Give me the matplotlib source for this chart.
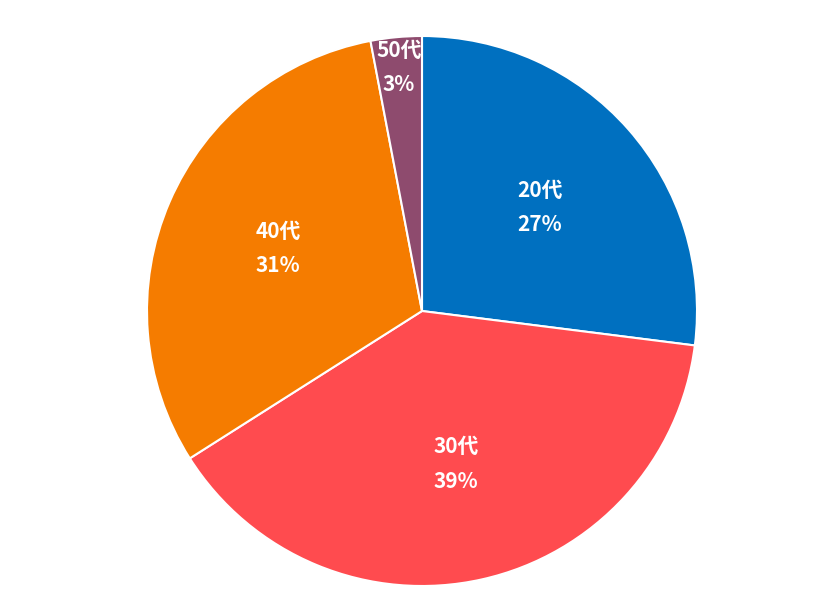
import numpy as np
import matplotlib.pyplot as plt

plt.rcParams['font.family'] = ['Noto Sans CJK JP', 'DejaVu Sans']

labels = ["20代", "30代", "40代", "50代"]
values = [27, 39, 31, 3]
colors = ["#0070C0", "#FF4B4F", "#F57C00", "#8E4B6E"]
label_dist = [0.57, 0.57, 0.57, 0.89]

fig = plt.figure(figsize=(8.4, 6.11), dpi=100)
ax = fig.add_axes([(422 - 275) / 840, 25 / 611, 550 / 840, 550 / 611])

ax.pie(values, colors=colors, startangle=90, counterclock=False, radius=1,
       wedgeprops=dict(edgecolor="white", linewidth=1.5))

total = sum(values)
start = 90.0
for lab, v, d in zip(labels, values, label_dist):
    sweep = v / total * 360
    mid = np.deg2rad(start - sweep / 2)
    x, y = d * np.cos(mid), d * np.sin(mid)
    ax.text(x, y + 0.062, lab, ha="center", va="center", color="white",
            fontsize=15, fontweight="bold")
    ax.text(x, y - 0.062, f"{v}%", ha="center", va="center", color="white",
            fontsize=15, fontweight="bold")
    start -= sweep

ax.set_xlim(-1, 1)
ax.set_ylim(-1, 1)
ax.set_aspect("equal")
ax.axis("off")

fig.savefig("out.png", dpi=100)
